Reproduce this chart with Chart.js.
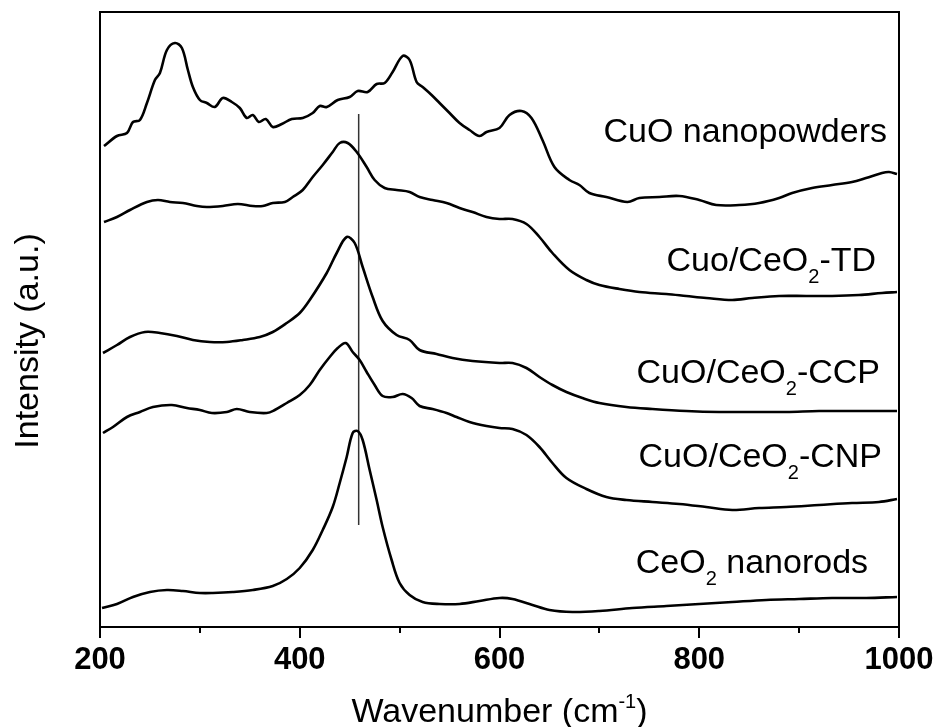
<!DOCTYPE html>
<html>
<head>
<meta charset="utf-8">
<script src="https://cdn.jsdelivr.net/npm/chart.js@4/dist/chart.umd.min.js"></script>
<style>
  html, body { margin: 0; padding: 0; background: #fff; }
  #raman { display: block; }
</style>
</head>
<body>
<canvas id="raman" width="938" height="727"></canvas>
<script>
// Raman spectra, stacked with an offset per sample (arbitrary units)
const cuoShift = [204, 217, 227, 233, 240, 247, 255, 260, 267, 275, 282, 288, 293, 300, 307, 315, 323, 332, 340, 347, 353, 359, 366, 373, 382, 392, 403, 413, 420, 427, 438, 450, 458, 468, 477, 485, 493, 503, 510, 517, 523, 532, 540, 550, 560, 570, 580, 587, 600, 610, 622, 632, 643, 655, 670, 680, 690, 707, 728, 740, 760, 780, 800, 817, 840, 860, 880, 893, 913, 933, 953, 967, 983, 990, 998];
const cuoIntensity = [481, 491, 494, 505, 507, 524, 547, 554, 577, 584, 579, 557, 540, 527, 524, 520, 529, 525, 519, 509, 512, 505, 508, 500, 503, 508, 509, 514, 521, 520, 527, 530, 536, 535, 543, 544, 555, 571, 567, 545, 540, 532, 524, 514, 504, 497, 491, 495, 499, 512, 516, 509, 487, 460, 447, 442, 434, 430, 425, 429, 430, 431, 427, 422, 422, 424, 429, 434, 439, 442, 445, 449, 454, 455, 453];

const tdShift = [204, 217, 230, 247, 258, 270, 283, 297, 307, 323, 338, 353, 363, 373, 385, 393, 403, 413, 423, 433, 440, 448, 457, 467, 475, 485, 497, 510, 520, 533, 547, 560, 573, 587, 600, 613, 627, 640, 653, 670, 687, 700, 720, 740, 767, 787, 807, 833, 853, 880, 907, 933, 960, 983, 998];
const tdIntensity = [405, 410, 417, 425, 427, 425, 424, 421, 420, 421, 423, 421, 421, 424, 425, 430, 437, 450, 462, 475, 484, 484, 475, 460, 447, 439, 437, 435, 430, 427, 424, 419, 415, 410, 408, 408, 403, 390, 374, 357, 347, 342, 338, 335, 333, 331, 329, 327, 329, 331, 331, 331, 332, 334, 335];

const ccpShift = [203, 217, 230, 245, 260, 277, 293, 310, 327, 343, 360, 373, 387, 400, 410, 427, 437, 447, 455, 463, 473, 483, 497, 510, 520, 537, 553, 573, 600, 613, 627, 640, 653, 667, 683, 700, 727, 753, 787, 820, 853, 887, 920, 953, 998];
const ccpIntensity = [274, 282, 290, 295, 294, 291, 287, 285, 285, 287, 290, 295, 304, 314, 327, 354, 374, 390, 384, 360, 330, 306, 292, 287, 277, 273, 269, 266, 264, 264, 259, 250, 242, 235, 229, 224, 220, 218, 216, 215, 215, 215, 216, 216, 216];

const cnpShift = [203, 213, 227, 240, 253, 272, 287, 300, 312, 327, 337, 350, 367, 375, 387, 400, 410, 420, 430, 438, 446, 453, 460, 467, 475, 483, 493, 503, 512, 520, 533, 547, 557, 570, 587, 600, 613, 627, 640, 653, 667, 687, 707, 727, 753, 780, 807, 833, 860, 887, 920, 953, 980, 998];
const cnpIntensity = [194, 200, 210, 215, 220, 222, 219, 217, 214, 215, 218, 215, 214, 217, 224, 232, 242, 257, 270, 279, 284, 275, 267, 255, 242, 231, 230, 233, 229, 221, 218, 214, 210, 205, 201, 199, 198, 192, 180, 164, 149, 138, 130, 127, 125, 123, 120, 117, 119, 120, 122, 124, 125, 128];

const ceo2Shift = [202, 217, 233, 250, 267, 283, 300, 313, 333, 353, 373, 387, 400, 413, 423, 433, 440, 447, 453, 458, 463, 470, 477, 483, 492, 500, 510, 523, 540, 560, 580, 600, 613, 633, 650, 673, 700, 733, 767, 800, 833, 867, 900, 933, 967, 998];
const ceo2Intensity = [19, 23, 30, 35, 37, 36, 34, 34, 35, 37, 41, 48, 59, 77, 97, 120, 144, 170, 194, 196, 187, 157, 127, 100, 67, 44, 32, 25, 23, 23, 26, 29, 28, 22, 17, 15, 16, 19, 21, 23, 25, 27, 28, 29, 29, 30];

// F2g reference line of CeO2
const markerShift = [459, 459];
const markerIntensity = [102, 513];

const xTicks = [200, 400, 600, 800, 1000];
const minorTicks = [300, 500, 700, 900];

const sampleNames = ['CuO nanopowders', 'Cuo/CeO|2|-TD', 'CuO/CeO|2|-CCP', 'CuO/CeO|2|-CNP', 'CeO|2| nanorods'];

const FONT = "'Liberation Sans', Arial, Helvetica, sans-serif";
const TEXT_SIZE = 34;
const SMALL_SIZE = 20;

// where each sample name sits: right edge (cm-1) and baseline (intensity)
const namePlacement = [
    { x: 988, y: 485 },
    { x: 977, y: 356 },
    { x: 981, y: 244 },
    { x: 983, y: 160 },
    { x: 969, y: 54 }
];

const toPoints = (xs, ys) => xs.map((x, i) => ({ x: x, y: ys[i] }));

const spectra = [
    [cuoShift, cuoIntensity],
    [tdShift, tdIntensity],
    [ccpShift, ccpIntensity],
    [cnpShift, cnpIntensity],
    [ceo2Shift, ceo2Intensity]
];

const datasets = spectra.map(([xs, ys]) => ({
    data: toPoints(xs, ys),
    borderColor: '#000',
    borderWidth: 2.6,
    pointRadius: 0,
    tension: 0.35,
    fill: false
}));

datasets.push({
    data: toPoints(markerShift, markerIntensity),
    borderColor: '#333',
    borderWidth: 1.5,
    pointRadius: 0,
    tension: 0,
    fill: false
});

// draws a run of text pieces left to right, each with its own size and offset
const drawRich = (ctx, pieces, x, y, align) => {
    let total = 0;
    pieces.forEach(p => {
        ctx.font = `${p.size}px ${FONT}`;
        p.w = ctx.measureText(p.text).width;
        total += p.w;
    });
    let cx = align === 'right' ? x - total : (align === 'center' ? x - total / 2 : x);
    ctx.textAlign = 'left';
    ctx.textBaseline = 'alphabetic';
    pieces.forEach(p => {
        ctx.font = `${p.size}px ${FONT}`;
        ctx.fillText(p.text, cx, y + p.dy);
        cx += p.w;
    });
};

// pieces split by '|' alternate normal / subscript
const splitSub = (name) => name.split('|').map((t, i) => (
    i % 2 === 1 ? { text: t, size: SMALL_SIZE, dy: 12 } : { text: t, size: TEXT_SIZE, dy: 0 }
));

const annotations = {
    id: 'annotations',
    afterDraw(chart) {
        const { ctx, chartArea, scales } = chart;
        ctx.save();
        ctx.strokeStyle = '#000';
        ctx.fillStyle = '#000';

        // top and right frame
        ctx.lineWidth = 2;
        ctx.beginPath();
        ctx.moveTo(chartArea.left, chartArea.top);
        ctx.lineTo(chartArea.right, chartArea.top);
        ctx.lineTo(chartArea.right, chartArea.bottom);
        ctx.stroke();

        // minor ticks
        minorTicks.forEach(v => {
            const px = Math.round(scales.x.getPixelForValue(v));
            ctx.beginPath();
            ctx.moveTo(px, chartArea.bottom);
            ctx.lineTo(px, chartArea.bottom + 6);
            ctx.stroke();
        });

        // sample names
        sampleNames.forEach((name, i) => {
            const pos = namePlacement[i];
            drawRich(ctx, splitSub(name),
                scales.x.getPixelForValue(pos.x),
                scales.y.getPixelForValue(pos.y), 'right');
        });

        // x axis title with superscript
        drawRich(ctx, [
            { text: 'Wavenumber (cm', size: TEXT_SIZE, dy: 0 },
            { text: '-1', size: SMALL_SIZE, dy: -14 },
            { text: ')', size: TEXT_SIZE, dy: 0 }
        ], (chartArea.left + chartArea.right) / 2, 722, 'center');

        // y axis title
        ctx.translate(38, 341);
        ctx.rotate(-Math.PI / 2);
        ctx.font = `${TEXT_SIZE}px ${FONT}`;
        ctx.textAlign = 'center';
        ctx.textBaseline = 'alphabetic';
        ctx.fillText('Intensity (a.u.)', 0, 0);
        ctx.restore();
    }
};

new Chart(document.getElementById('raman').getContext('2d'), {
    type: 'line',
    data: { datasets: datasets },
    options: {
        responsive: false,
        animation: false,
        events: [],
        layout: { padding: { top: 12, right: 39, left: 0, bottom: 0 } },
        plugins: {
            legend: { display: false },
            tooltip: { enabled: false },
            title: { display: false }
        },
        scales: {
            x: {
                type: 'linear',
                min: 200,
                max: 1000,
                afterFit: (scale) => { scale.height = 100; },
                afterBuildTicks: (scale) => { scale.ticks = xTicks.map(v => ({ value: v })); },
                ticks: {
                    color: '#000',
                    padding: 4,
                    maxRotation: 0,
                    autoSkip: false,
                    callback: (value) => String(value),
                    font: { family: FONT, size: 31, weight: 'bold' }
                },
                grid: {
                    drawOnChartArea: false,
                    tickLength: 11,
                    color: '#000',
                    lineWidth: 2
                },
                border: { color: '#000', width: 2 }
            },
            y: {
                type: 'linear',
                min: 0,
                max: 615,
                afterFit: (scale) => { scale.width = 100; },
                ticks: { display: false },
                grid: { display: false },
                border: { color: '#000', width: 2 }
            }
        }
    },
    plugins: [annotations]
});
</script>
</body>
</html>
